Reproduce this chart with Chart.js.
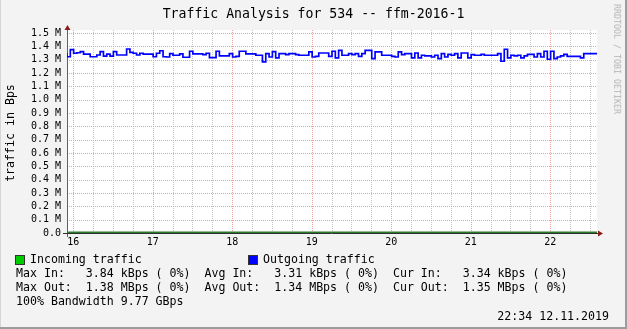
<!DOCTYPE html>
<html><head><meta charset="utf-8">
<script src="https://cdn.jsdelivr.net/npm/chart.js@4"></script>
<style>
html,body{margin:0;padding:0;}
body{width:627px;height:329px;overflow:hidden;background:#f3f3f3;font-family:'DejaVu Sans Mono',monospace;}
#wrap{position:absolute;left:0;top:0;width:627px;height:329px;}
canvas{position:absolute;left:0;top:0;}
.t{position:absolute;white-space:pre;color:#000;line-height:1;font-family:'DejaVu Sans Mono',monospace;}
.fr{position:absolute;}
.sq{position:absolute;width:8px;height:8px;border:1px solid #333;}
</style></head>
<body>
<div id="wrap">
<canvas id="c" width="627" height="329"></canvas>
<div class="fr" style="left:0;top:0;width:1px;height:329px;background:#d6d6d6"></div>
<div class="fr" style="left:625px;top:0;width:2px;height:329px;background:#9c9c9c"></div>
<div class="fr" style="left:0;top:327px;width:627px;height:2px;background:#9c9c9c"></div>
<div class="t" style="left:0;top:7px;width:627px;text-align:center;font-size:13.2px;">Traffic Analysis for 534 -- ffm-2016-1</div>
<div class="t" style="left:11px;top:133px;font-size:11.6px;transform:translate(-50%,-50%) rotate(-90deg);">traffic in Bps</div>
<div class="t" style="left:617px;top:59px;font-size:8.3px;color:#b4b4b4;transform:translate(-50%,-50%) rotate(90deg);">RRDTOOL / TOBI OETIKER</div>
<div class="sq" style="left:15px;top:255px;background:#00cc00"></div>
<div class="t" style="left:30px;top:254px;font-size:11.6px;">Incoming traffic</div>
<div class="sq" style="left:248px;top:255px;background:#0000ff"></div>
<div class="t" style="left:263px;top:254px;font-size:11.6px;">Outgoing traffic</div>
<div class="t" style="left:16px;top:268px;font-size:11.6px;">Max In:   3.84 kBps ( 0%)  Avg In:   3.31 kBps ( 0%)  Cur In:   3.34 kBps ( 0%)</div>
<div class="t" style="left:16px;top:282px;font-size:11.6px;">Max Out:  1.38 MBps ( 0%)  Avg Out:  1.34 MBps ( 0%)  Cur Out:  1.35 MBps ( 0%)</div>
<div class="t" style="left:16px;top:296px;font-size:11.6px;">100% Bandwidth 9.77 GBps</div>
<div class="t" style="right:18px;top:311px;font-size:11.6px;">22:34 12.11.2019</div>
</div>
<script>
// ---- data ----
const startDay = 15.922;           // first sample (day of month, fractional)
const dayNumbers = [16, 17, 18, 19, 20, 21, 22];
const dayLabels = ['16', '17', '18', '19', '20', '21', '22'];
const yTickLabels = ['0.0','0.1 M','0.2 M','0.3 M','0.4 M','0.5 M','0.6 M','0.7 M','0.8 M','0.9 M','1.0 M','1.1 M','1.2 M','1.3 M','1.4 M','1.5 M'];
// Outgoing traffic, hourly averages, MBps
const outValues = [
1.348,1.322,1.375,1.348,1.352,1.360,1.342,1.342,1.322,1.322,
1.335,1.360,1.327,1.342,1.327,1.360,1.335,1.335,1.335,1.380,
1.355,1.348,1.335,1.348,1.342,1.342,1.342,1.322,1.348,1.367,
1.322,1.320,1.345,1.333,1.333,1.343,1.318,1.318,1.363,1.343,
1.343,1.343,1.338,1.348,1.315,1.315,1.363,1.328,1.328,1.328,
1.345,1.320,1.325,1.363,1.363,1.343,1.343,1.343,1.333,1.333,
1.283,1.345,1.320,1.360,1.313,1.345,1.345,1.338,1.345,1.345,
1.338,1.333,1.333,1.333,1.358,1.320,1.325,1.350,1.350,1.350,
1.325,1.363,1.313,1.370,1.333,1.333,1.345,1.338,1.345,1.325,
1.345,1.370,1.370,1.308,1.358,1.358,1.333,1.333,1.333,1.325,
1.320,1.358,1.338,1.345,1.345,1.313,1.350,1.313,1.333,1.328,
1.328,1.320,1.333,1.308,1.345,1.320,1.340,1.333,1.345,1.313,
1.350,1.350,1.313,1.338,1.333,1.333,1.340,1.333,1.333,1.333,
1.333,1.345,1.288,1.378,1.313,1.333,1.328,1.333,1.313,1.328,
1.340,1.340,1.320,1.345,1.320,1.363,1.303,1.363,1.308,1.320,
1.328,1.340,1.325,1.325,1.325,1.325,1.313,1.345,1.345,1.345
];
// Incoming traffic, 12-hour averages, MBps
const inValues = [0.0034,0.0033,0.0031,0.0035,0.0032,0.0038,0.0033,0.0031,0.0034,0.0032,0.0036,0.0033,0.0030,0.0034];

const endDay = startDay + outValues.length / 24;

function stepPoints(vals, stepDays) {
  const pts = vals.map((v, i) => ({x: Math.min(startDay + i * stepDays, endDay), y: v}));
  pts.push({x: endDay, y: vals[vals.length - 1]});
  return pts;
}

const MAJOR = '#e8a0a0', MINOR = '#c6c6c6';
const FONT = "'DejaVu Sans Mono', monospace";

const decor = {
  id: 'decor',
  beforeDraw(chart) {
    const {ctx, chartArea: a} = chart;
    ctx.save();
    ctx.fillStyle = '#ffffff';
    ctx.fillRect(a.left, a.top - 3, a.right - a.left, a.bottom - a.top + 3);
    ctx.restore();
  },
  beforeDatasetsDraw(chart) {
    const {ctx, chartArea: a, scales} = chart;
    ctx.save();
    ctx.lineWidth = 1;
    ctx.setLineDash([1, 1]);
    scales.x.ticks.forEach(t => {
      const px = Math.round(scales.x.getPixelForValue(t.value)) + 0.5;
      ctx.strokeStyle = Number.isInteger(t.value) ? MAJOR : MINOR;
      ctx.beginPath();
      ctx.moveTo(px, a.bottom);
      ctx.lineTo(px, a.top - 3);
      ctx.stroke();
    });
    scales.y.ticks.forEach(t => {
      if (t.value === 0) return;
      const py = Math.round(scales.y.getPixelForValue(t.value)) + 0.5;
      ctx.strokeStyle = MAJOR;
      ctx.beginPath();
      ctx.moveTo(a.left, py);
      ctx.lineTo(a.right, py);
      ctx.stroke();
    });
    ctx.setLineDash([]);
    ctx.strokeStyle = '#606060';
    ctx.beginPath();
    ctx.moveTo(a.left + 0.5, a.bottom + 4);
    ctx.lineTo(a.left + 0.5, a.top - 4);
    ctx.stroke();
    ctx.strokeStyle = '#303030';
    ctx.beginPath();
    ctx.moveTo(a.left - 4, a.bottom + 0.5);
    ctx.lineTo(a.right + 3, a.bottom + 0.5);
    ctx.stroke();
    ctx.fillStyle = '#8e1a1a';
    ctx.beginPath();
    ctx.moveTo(a.left + 0.5, a.top - 8);
    ctx.lineTo(a.left - 2.5, a.top - 3);
    ctx.lineTo(a.left + 3.5, a.top - 3);
    ctx.closePath();
    ctx.fill();
    ctx.beginPath();
    ctx.moveTo(a.right + 6, a.bottom + 0.5);
    ctx.lineTo(a.right + 1, a.bottom - 2.5);
    ctx.lineTo(a.right + 1, a.bottom + 3.5);
    ctx.closePath();
    ctx.fill();
    ctx.restore();
  }
};

new Chart(document.getElementById('c'), {
  type: 'line',
  data: {
    datasets: [
      {
        label: 'Outgoing traffic',
        data: stepPoints(outValues, 1 / 24),
        borderColor: '#0000ff',
        borderWidth: 1.7,
        stepped: 'after',
        pointRadius: 0,
        fill: false
      },
      {
        label: 'Incoming traffic',
        data: stepPoints(inValues, 0.5),
        borderColor: '#2b7a2b',
        borderWidth: 2,
        stepped: 'after',
        pointRadius: 0,
        fill: false
      }
    ]
  },
  options: {
    responsive: false,
    animation: false,
    devicePixelRatio: 1,
    layout: {padding: {left: 0, top: 33, right: 30, bottom: 76}},
    plugins: {legend: {display: false}, tooltip: {enabled: false}, title: {display: false}},
    scales: {
      x: {
        type: 'linear',
        min: startDay,
        max: endDay,
        afterBuildTicks(scale) {
          const t = [];
          dayNumbers.forEach(d => [0, 0.25, 0.5, 0.75].forEach(f => { if (d + f <= endDay) t.push({value: d + f}); }));
          scale.ticks = t;
        },
        afterFit(scale) { scale.height = 20; },
        ticks: {
          autoSkip: false, maxRotation: 0, padding: 3,
          color: '#000', font: {family: FONT, size: 10},
          callback(v) { const i = dayNumbers.indexOf(v); return i >= 0 ? dayLabels[i] : ''; }
        },
        grid: {display: true, drawOnChartArea: false, drawTicks: false},
        border: {display: false}
      },
      y: {
        type: 'linear',
        min: 0, max: 1.5,
        afterFit(scale) { scale.width = 67; },
        ticks: {
          stepSize: 0.1, padding: 6, autoSkip: false,
          color: '#000', font: {family: FONT, size: 10},
          callback(v, i) { return yTickLabels[i]; }
        },
        grid: {display: true, drawOnChartArea: false, drawTicks: false},
        border: {display: false}
      }
    }
  },
  plugins: [decor]
});
</script>
</body></html>
